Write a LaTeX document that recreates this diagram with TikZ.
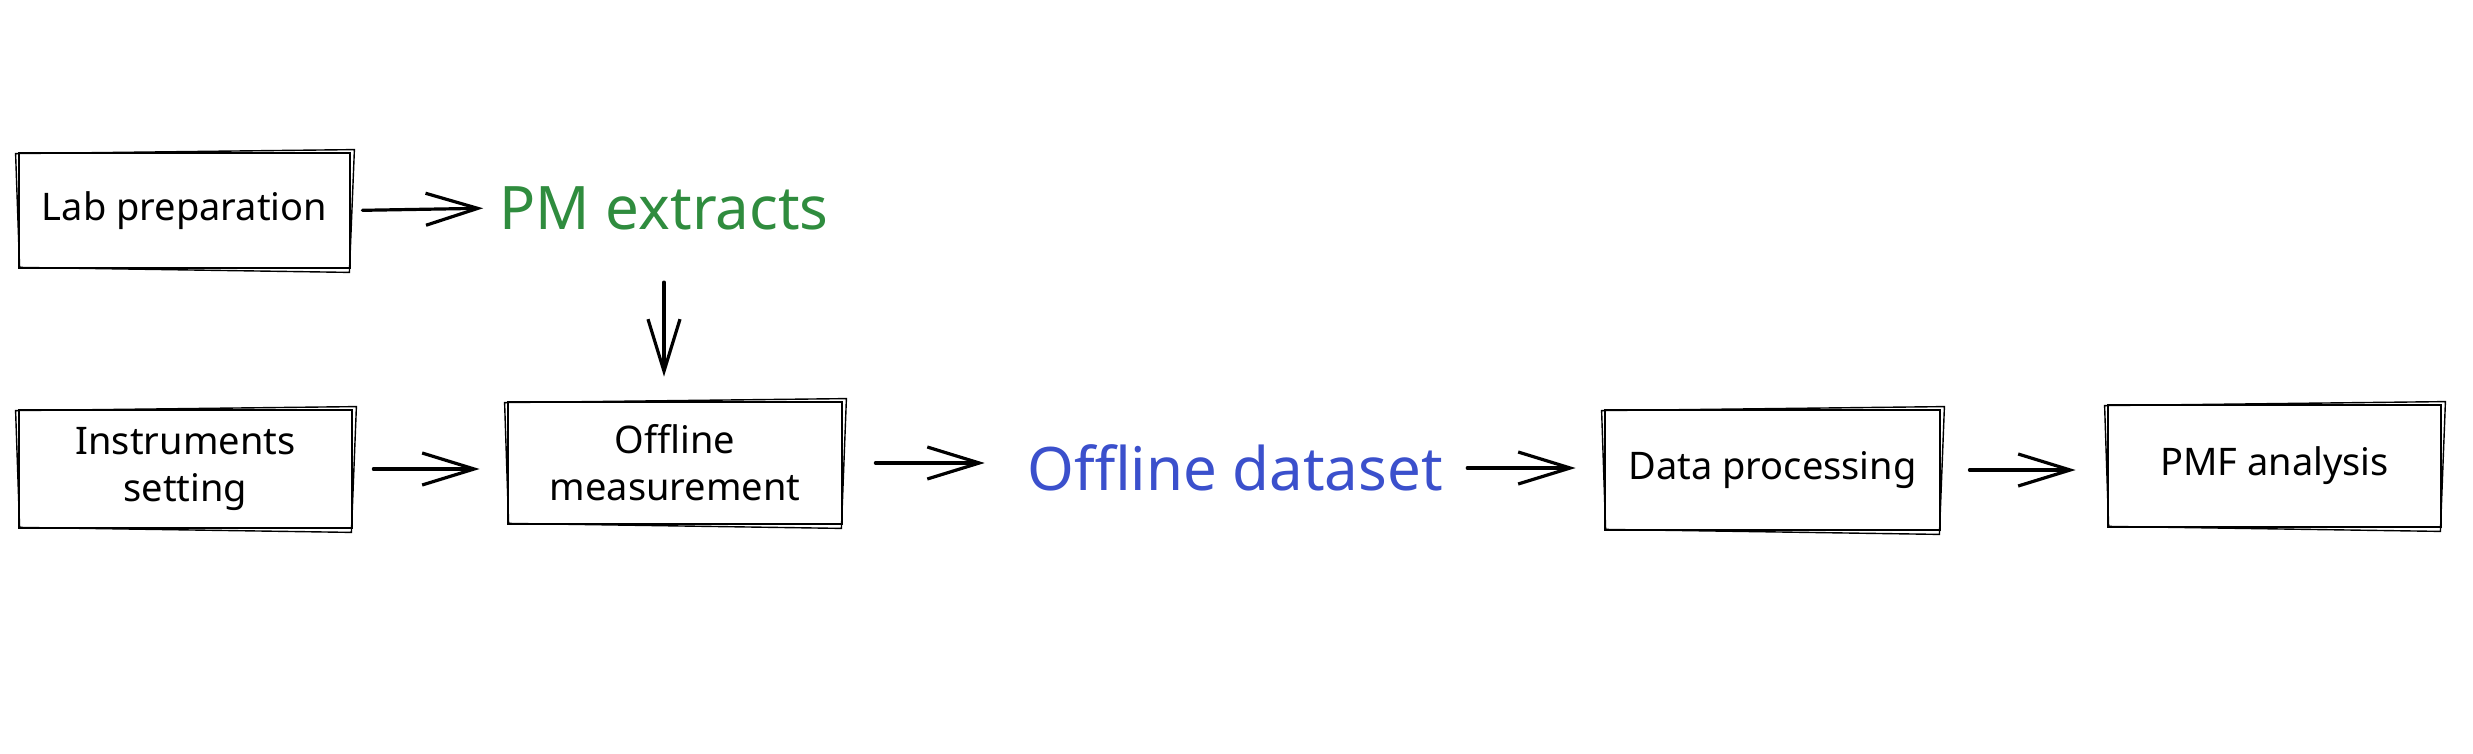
\documentclass[tikz,border=0pt]{standalone}
\usepackage{fontspec}
\setmainfont{Noto Sans}
\usetikzlibrary{arrows.meta}
\definecolor{pmgreen}{RGB}{47,140,62}
\definecolor{dsblue}{RGB}{59,80,204}
\tikzset{
  box/.style={draw=black, line width=1.4pt, inner sep=0pt, align=center,
    font=\fontsize{19}{23.5}\selectfont},
  bigtext/.style={inner sep=0pt, font=\fontsize{30}{36}\selectfont},
  flow/.style={draw=black, line width=1.6pt, line cap=round,
    -{Straight Barb[length=26pt,width=16pt,line width=1.6pt]}},
  sketch/.style={draw=black, line width=0.7pt}
}
\begin{document}
\begin{tikzpicture}[x=0.5pt,y=-0.5pt]
\useasboundingbox (0,0) rectangle (2473,754);
% boxes
\node[box, minimum width=165.5pt, minimum height=57.5pt] (lab) at (184.5,210.5) {Lab preparation};
\node[box, minimum width=166.5pt, minimum height=59pt] (inst) at (185.5,469) {Instruments\\setting};
\node[box, minimum width=167pt, minimum height=61pt] (offm) at (675,463) {Offline\\measurement};
\node[box, minimum width=167.5pt, minimum height=60pt] (datap) at (1772.5,470) {Data processing};
\node[box, minimum width=166.5pt, minimum height=61pt] (pmf) at (2274.5,466) {PMF analysis};
% sketchy second strokes
\foreach \n in {lab,inst,offm,datap,pmf}{
  \draw[sketch] ([shift={(-2,2)}]\n.north west) -- ([shift={(3,-2)}]\n.north east)
    -- ([shift={(-2,3)}]\n.south east) -- ([shift={(2,-2)}]\n.south west) -- cycle;
}
% texts
\node[bigtext, text=pmgreen] (pm) at (664,208) {PM extracts};
\node[bigtext, text=dsblue] (od) at (1235,468) {Offline dataset};
% connectors
\draw[flow, shorten <=5.5pt, shorten >=8pt] (lab.east) -- (pm.west);
\draw[flow, shorten <=26pt, shorten >=12pt] (pm.south) -- (pm.south |- offm.north);
\draw[flow, shorten <=10pt, shorten >=13.5pt] (inst.east) -- (inst.east -| offm.west);
\draw[flow, shorten <=16pt, shorten >=21pt] (offm.east) -- (offm.east -| od.west);
\draw[flow, shorten <=12pt, shorten >=14pt] (od.east) -- (od.east -| datap.west);
\draw[flow, shorten <=14pt, shorten >=15.5pt] (datap.east) -- (datap.east -| pmf.west);
\end{tikzpicture}
\end{document}
